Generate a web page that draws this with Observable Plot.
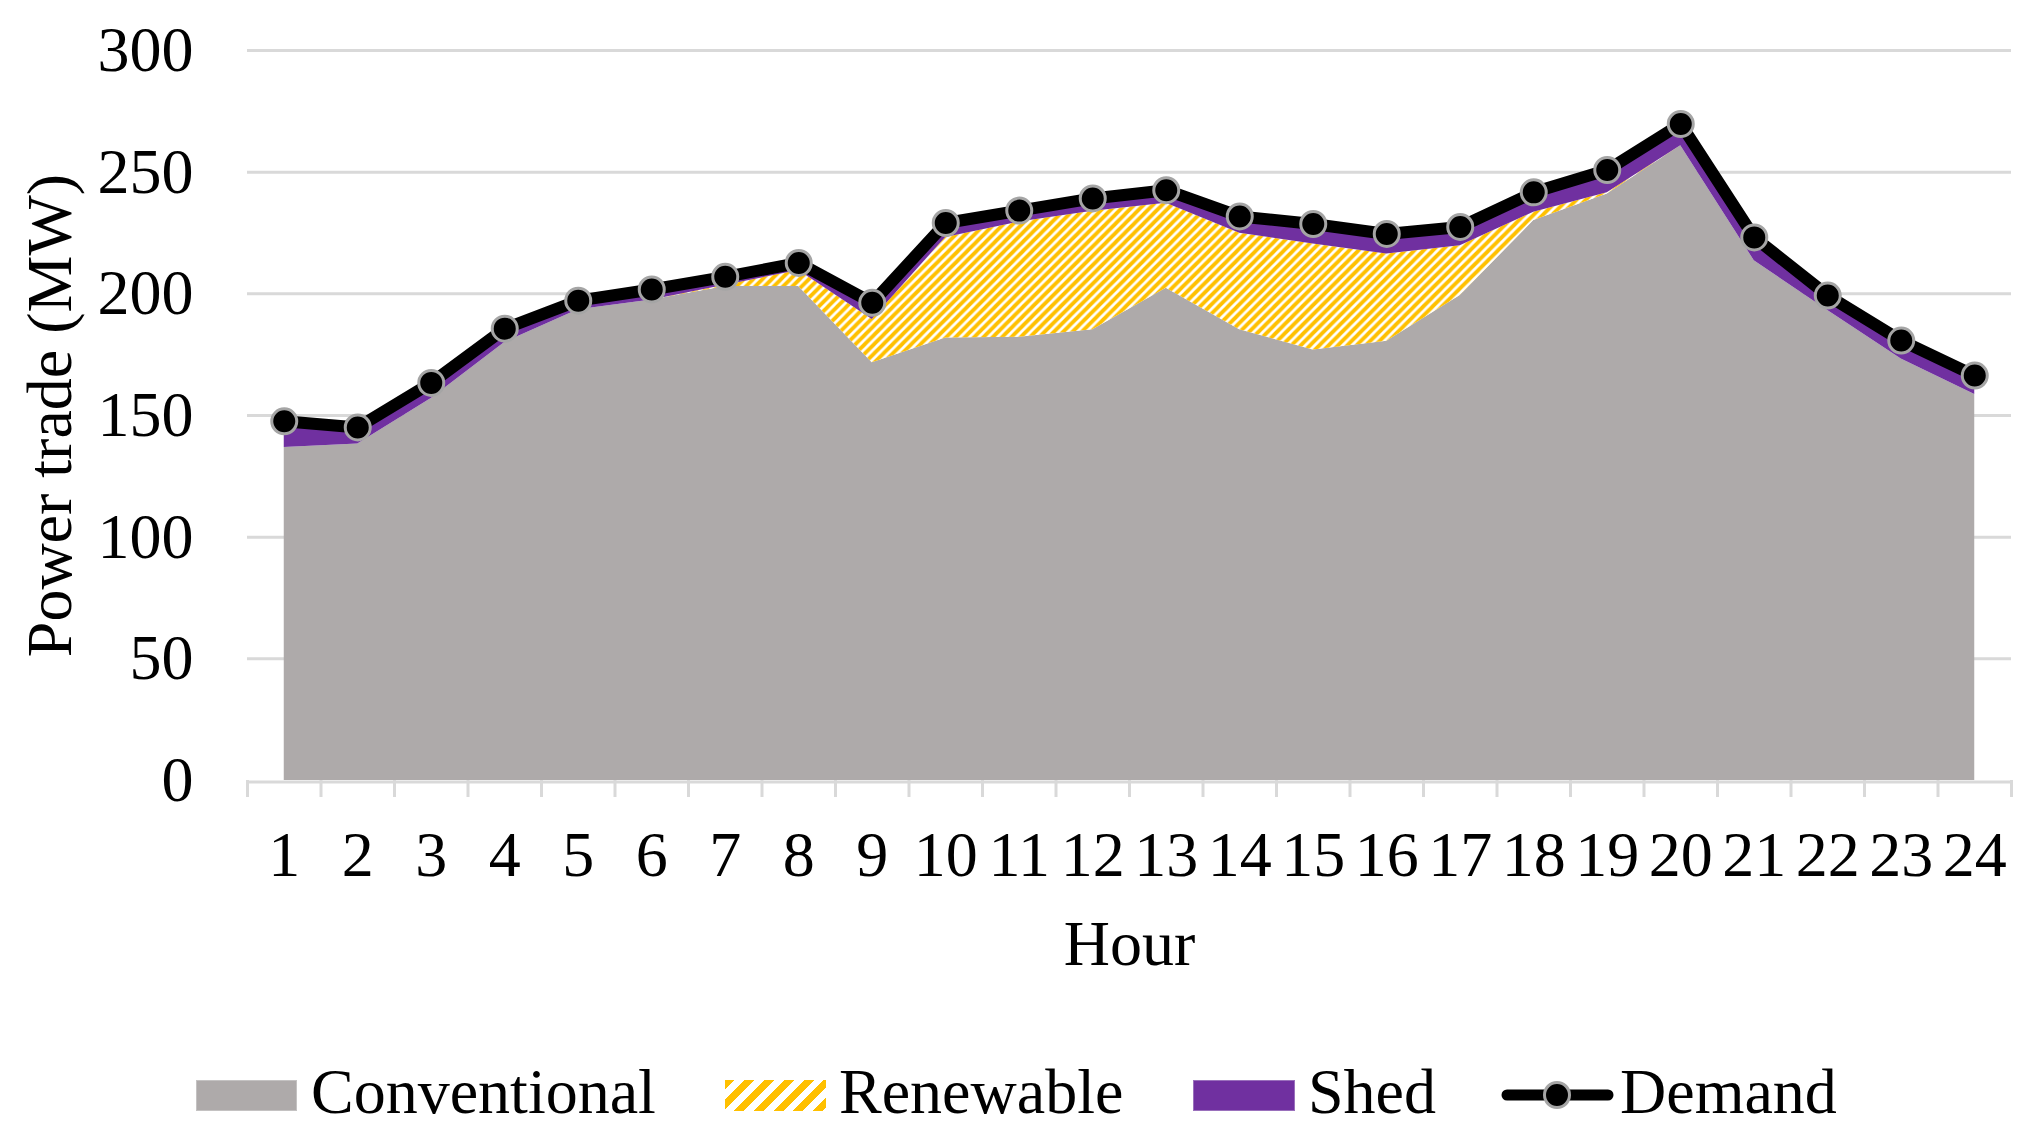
<!DOCTYPE html>
<html>
<head>
<meta charset="utf-8">
<script src="https://cdn.jsdelivr.net/npm/d3@7"></script>
<script src="https://cdn.jsdelivr.net/npm/@observablehq/plot@0.6"></script>
<style>
  body { margin: 0; background: #fff; }
  #wrap { position: relative; width: 2040px; height: 1140px; font-family: 'Liberation Serif', 'Times New Roman', serif; }
  #legend { position: absolute; left: 0; top: 1040px; width: 2040px; height: 100px; }
  .sw { position: absolute; top: 40px; height: 31px; box-sizing: border-box; }
  .lt { position: absolute; top: 20px; font-size: 64px; line-height: 64px; white-space: nowrap; color: #000; }
</style>
</head>
<body>
<div id="wrap">
  <div id="chart"></div>
  <div id="legend"></div>
</div>
<script>
// ---- data ----
const hours = [1,2,3,4,5,6,7,8,9,10,11,12,13,14,15,16,17,18,19,20,21,22,23,24];
const conventional = [136.9,138.3,157.0,180.0,193.5,197.5,203.0,203.0,171.7,181.9,182.2,185.2,202.3,185.2,176.9,180.5,199.3,230.1,241.0,260.9,213.6,193.1,173.2,158.6];
const renewable    = [0,0,0,0,0,0,0.5,6.6,17.8,41.3,47.3,48.7,34.9,39.7,43.6,35.9,20.5,3.4,0.5,0,0,0,0,0];
const shed         = [10.7,6.8,6.4,5.7,3.7,4.3,3.5,3.1,6.8,5.9,4.7,5.3,5.4,6.9,8.2,8.2,7.7,8.2,9.4,8.9,9.6,6.2,7.6,7.8];
const demand       = [147.6,145.1,163.4,185.7,197.2,201.8,207.0,212.7,196.3,229.1,234.2,239.2,242.6,231.8,228.7,224.6,227.5,241.7,250.9,269.8,223.2,199.3,180.8,166.4];
const yTicks = [0,50,100,150,200,250,300];
const seriesNames = ["Conventional","Renewable","Shed"];
const seriesFills = ["#AEAAAA","url(#hatch)","#7030A0"];
const yLabel = "Power trade (MW)";
const xLabel = "Hour";

// ---- derived tables ----
const seriesValues = [conventional, renewable, shed];
const areaRows = seriesNames.flatMap((s, k) => hours.map((h, i) => ({hour: h, series: s, value: seriesValues[k][i], fill: seriesFills[k]})));
const demandRows = hours.map((h, i) => ({hour: h, value: demand[i]}));
const boundaries = hours.map(h => h - 0.5).concat([hours[hours.length - 1] + 0.5]);

const FONT = "'Liberation Serif', 'Times New Roman', serif";

const svg = Plot.plot({
  width: 2040,
  height: 1040,
  marginLeft: 247,
  marginRight: 29,
  marginTop: 50,
  marginBottom: 260,
  style: {fontFamily: FONT, fontSize: "64px", background: "white", overflow: "visible"},
  x: {type: "linear", domain: [0.5, 24.5]},
  y: {domain: [0, 300]},
  color: {type: "identity"},
  marks: [
    Plot.gridY(yTicks.filter(t => t > 0), {stroke: "#D9D9D9", strokeOpacity: 1, strokeWidth: 3}),
    Plot.areaY(areaRows, {x: "hour", y: "value", z: "series", fill: "fill"}),
    Plot.ruleY([0], {stroke: "#D9D9D9", strokeWidth: 3, dy: 1.5}),
    Plot.axisX(boundaries, {tickSize: 17, tickFormat: () => "", stroke: "#D9D9D9", strokeWidth: 3, label: null}),
    Plot.axisX(hours, {tickSize: 0, tickPadding: 50, fontSize: 64, label: null, fill: "black"}),
    Plot.axisY(yTicks, {tickSize: 0, tickPadding: 54, fontSize: 64, label: null, fill: "black"}),
    Plot.line(demandRows, {x: "hour", y: "value", stroke: "black", strokeWidth: 12, strokeLinejoin: "round", strokeLinecap: "round"}),
    Plot.dot(demandRows, {x: "hour", y: "value", r: 12.5, fill: "black", stroke: "#A5A5A5", strokeWidth: 3}),
    Plot.text([yLabel], {frameAnchor: "left", dx: -197, rotate: -90, fontSize: 64, textAnchor: "middle", lineAnchor: "middle", fill: "black"}),
    Plot.text([xLabel], {frameAnchor: "bottom", dy: 164, fontSize: 64, textAnchor: "middle", lineAnchor: "middle", fill: "black"})
  ]
});

// hatch pattern for renewable
const P = 9.3;
const defs = d3.select(svg).insert("defs", ":first-child");
const pat = defs.append("pattern").attr("id", "hatch").attr("patternUnits", "userSpaceOnUse").attr("width", P).attr("height", P);
pat.append("rect").attr("width", P).attr("height", P).attr("fill", "white");
pat.append("path").attr("d", `M${-P/4},${P/4} L${P/4},${-P/4} M0,${P} L${P},0 M${P*0.75},${P*1.25} L${P*1.25},${P*0.75}`)
   .attr("stroke", "#FFC000").attr("stroke-width", 3.8).attr("fill", "none");

document.getElementById("chart").appendChild(svg);

// ---- legend ----
const legend = document.getElementById("legend");
const items = [
  {name: seriesNames[0], sw: 196, swW: 101, tx: 311, style: "background:#AEAAAA;border:1px solid #C4C2C2;"},
  {name: seriesNames[1], sw: 725, swW: 101, tx: 839, style: "background:repeating-linear-gradient(135deg,#FFC000 0 7px,#ffffff 7px 14px);"},
  {name: seriesNames[2], sw: 1193, swW: 102, tx: 1308, style: "background:#7030A0;border:1px solid #9A70BC;"},
];
items.forEach(it => {
  const s = document.createElement("div");
  s.className = "sw";
  s.style.cssText = `left:${it.sw}px;width:${it.swW}px;` + it.style;
  legend.appendChild(s);
  const t = document.createElement("div");
  t.className = "lt";
  t.style.left = it.tx + "px";
  t.textContent = it.name;
  legend.appendChild(t);
});
// demand symbol
const ds = d3.select(legend).append("svg").attr("width", 140).attr("height", 50)
  .style("position", "absolute").style("left", "1490px").style("top", "30px");
ds.append("line").attr("x1", 17).attr("x2", 118).attr("y1", 25).attr("y2", 25)
  .attr("stroke", "black").attr("stroke-width", 11).attr("stroke-linecap", "round");
ds.append("circle").attr("cx", 67).attr("cy", 25).attr("r", 12.5)
  .attr("fill", "black").attr("stroke", "#A5A5A5").attr("stroke-width", 3);
const dt = document.createElement("div");
dt.className = "lt";
dt.style.left = "1620px";
dt.textContent = "Demand";
legend.appendChild(dt);
</script>
</body>
</html>
